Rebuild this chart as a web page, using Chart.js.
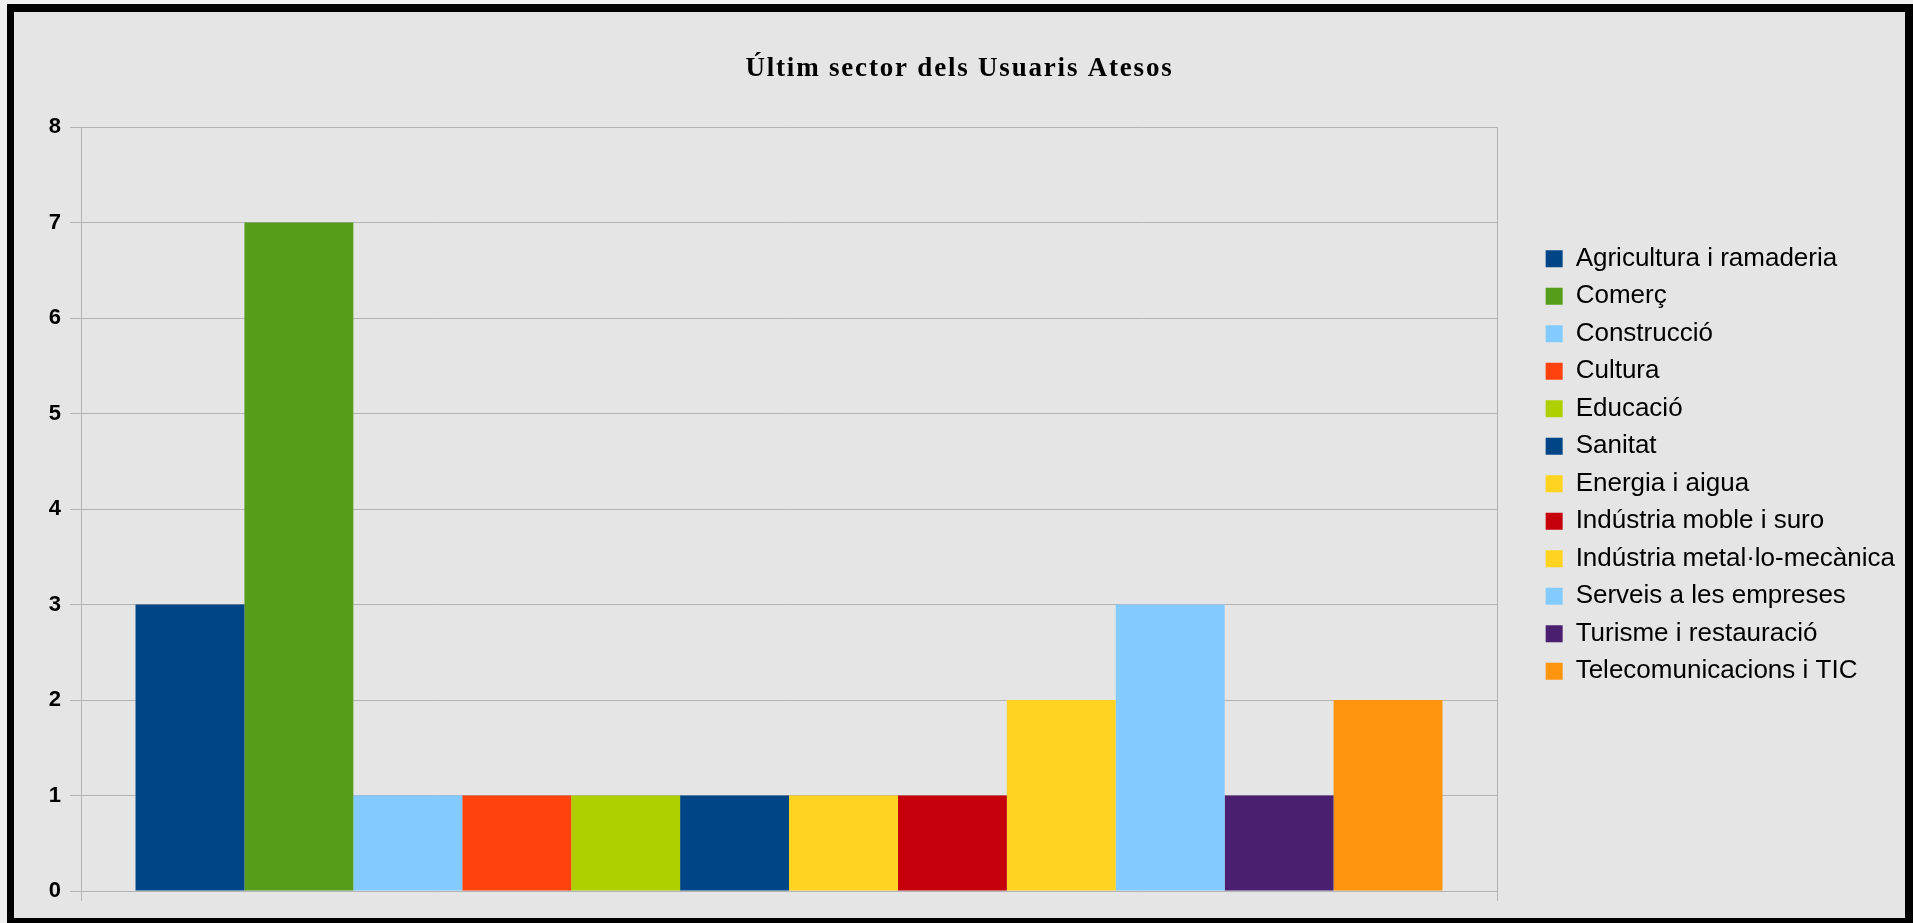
<!DOCTYPE html>
<html>
<head>
<meta charset="utf-8">
<title>Últim sector dels Usuaris Atesos</title>
<script src="https://cdn.jsdelivr.net/npm/chart.js"></script>
<style>
  html, body { margin: 0; padding: 0; background: #efefef; overflow: hidden; }
  #frame {
    position: absolute; left: 7px; top: 4px;
    border-style: solid; border-color: #000;
    border-width: 8px 8px 8px 7px;
    width: 1891px; height: 906px;
    background: #e5e5e5;
  }
</style>
</head>
<body>
<div id="frame"><canvas id="sectorChart"></canvas></div>
<script>
const chartTitle = 'Últim sector dels Usuaris Atesos';
const categories = [''];
const sectors = [
  'Agricultura i ramaderia', 'Comerç', 'Construcció', 'Cultura', 'Educació', 'Sanitat',
  'Energia i aigua', 'Indústria moble i suro', 'Indústria metal·lo-mecànica',
  'Serveis a les empreses', 'Turisme i restauració', 'Telecomunicacions i TIC'
];
const usuaris = [3, 7, 1, 1, 1, 1, 1, 1, 2, 3, 1, 2];
const colors = [
  '#004586', '#579d1c', '#83caff', '#ff420e', '#aecf00', '#004586',
  '#ffd320', '#c5000b', '#ffd320', '#83caff', '#4b1f6f', '#ff950e'
];
const yMin = 0;
const yMax = 8;
const yStep = 1;

// title drawn by hand so it can get the loose letter spacing of the original
const titlePlugin = {
  id: 'chartTitle',
  afterDraw(chart) {
    const ctx = chart.ctx;
    ctx.save();
    ctx.font = 'bold 27px "Liberation Serif", "Times New Roman", serif';
    ctx.letterSpacing = '1.8px';
    ctx.fillStyle = '#000';
    ctx.textAlign = 'center';
    ctx.textBaseline = 'alphabetic';
    ctx.fillText(chartTitle, chart.width / 2, 64);
    ctx.restore();
  }
};

const datasets = sectors.map((s, i) => ({
  label: s,
  data: [usuaris[i]],
  backgroundColor: colors[i],
  borderWidth: 0,
  categoryPercentage: 0.923,
  barPercentage: 1
}));

new Chart(document.getElementById('sectorChart'), {
  type: 'bar',
  data: { labels: categories, datasets },
  plugins: [titlePlugin],
  options: {
    responsive: true,
    maintainAspectRatio: false,
    animation: false,
    layout: { padding: 0 },
    plugins: {
      title: { display: false },
      tooltip: { enabled: false },
      legend: {
        position: 'right',
        align: 'center',
        labels: {
          color: '#000',
          font: { family: '"Liberation Sans", Arial, sans-serif', size: 26 },
          boxWidth: 17,
          boxHeight: 17,
          padding: 11.5
        }
      }
    },
    scales: {
      x: {
        type: 'category',
        offset: true,
        grid: { color: '#b3b3b3', offset: true, tickLength: 10 },
        border: { display: false },
        ticks: { display: false },
        afterFit(s) { s.height = 27; }
      },
      xTop: {
        type: 'category',
        position: 'top',
        grid: { display: false },
        border: { display: false },
        ticks: { display: false },
        afterFit(s) { s.height = 115; }
      },
      y: {
        min: yMin,
        max: yMax,
        ticks: {
          stepSize: yStep,
          color: '#000',
          padding: 9,
          font: { family: '"Liberation Sans", Arial, sans-serif', size: 22, weight: 'bold' }
        },
        grid: { color: '#b3b3b3', tickLength: 11 },
        border: { color: '#b3b3b3' },
        afterFit(s) { s.width = 67; }
      },
      // empty gap between the plot and the legend
      yRight: {
        position: 'right',
        display: false,
        afterFit(s) {
          const lw = s.chart.legend ? s.chart.legend.width : 370;
          s.width = 408 - lw;
        }
      }
    }
  }
});
</script>
</body>
</html>
